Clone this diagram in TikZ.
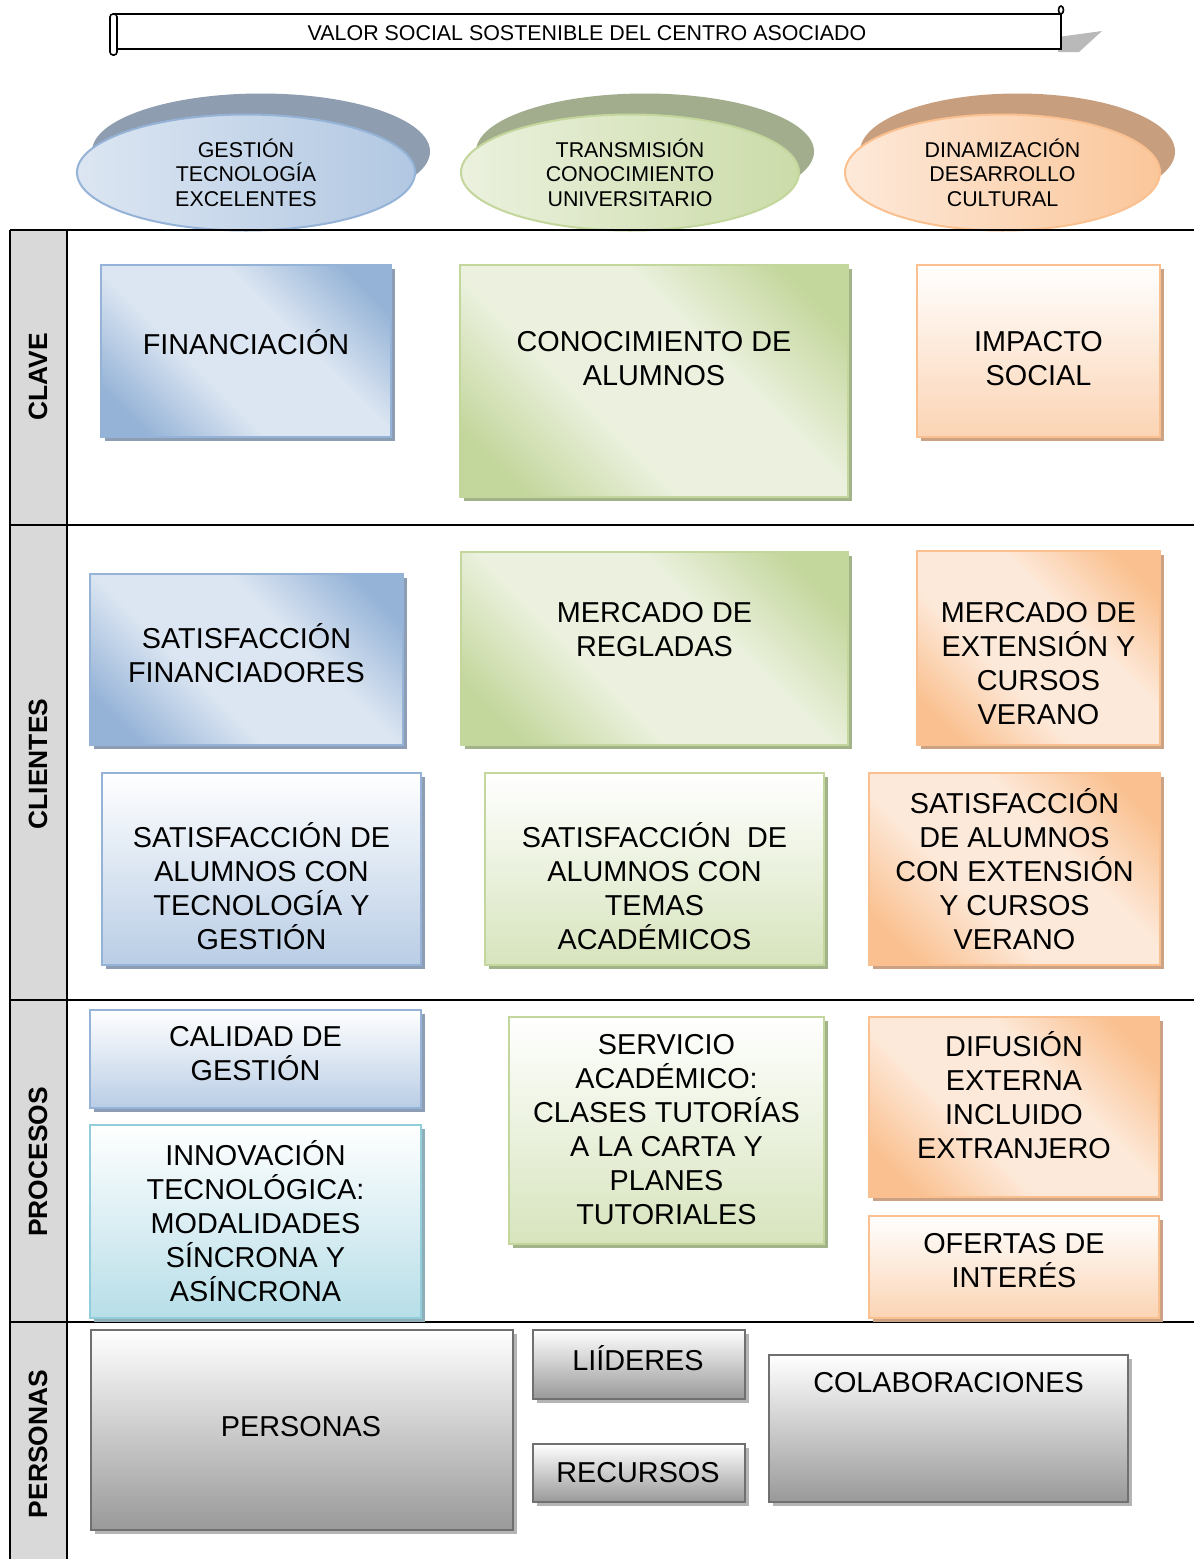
\documentclass[tikz,border=0pt]{standalone}
\usepackage{fontspec}
\setmainfont{Liberation Sans}
\usetikzlibrary{shadows,shapes.geometric}
\definecolor{blL}{HTML}{DCE6F2}
\definecolor{blD}{HTML}{95B3D7}
\definecolor{blV}{HTML}{B9CDE5}
\definecolor{blS}{HTML}{8C9DB4}
\definecolor{blE}{HTML}{8E9DB0}
\definecolor{grL}{HTML}{EBF1DE}
\definecolor{grD}{HTML}{C3D69B}
\definecolor{grV}{HTML}{D7E4BD}
\definecolor{grS}{HTML}{A3B389}
\definecolor{grE}{HTML}{A2AD8E}
\definecolor{orL}{HTML}{FDE9D9}
\definecolor{orD}{HTML}{FAC08F}
\definecolor{orV}{HTML}{FBD4B4}
\definecolor{orS}{HTML}{CBA283}
\definecolor{orE}{HTML}{C79E7E}
\definecolor{cyD}{HTML}{92CDDC}
\definecolor{cyV}{HTML}{B7DEE8}
\definecolor{cyS}{HTML}{8FAFB8}
\definecolor{gyD}{HTML}{707070}
\definecolor{gyV}{HTML}{999999}
\definecolor{gyS}{HTML}{B4B4B4}
\definecolor{sideG}{HTML}{D9D9D9}
\pgfdeclareverticalshading{bdsh}{100bp}{color(0bp)=(blD); color(22bp)=(blD); color(40bp)=(blL); color(60bp)=(blL); color(78bp)=(blD); color(100bp)=(blD)}
\pgfdeclareverticalshading{gdsh}{100bp}{color(0bp)=(grD); color(22bp)=(grD); color(40bp)=(grL); color(60bp)=(grL); color(78bp)=(grD); color(100bp)=(grD)}
\pgfdeclareverticalshading{odsh}{100bp}{color(0bp)=(orD); color(22bp)=(orD); color(40bp)=(orL); color(60bp)=(orL); color(78bp)=(orD); color(100bp)=(orD)}
\begin{document}
\begin{tikzpicture}[x=0.5pt,y=-0.5pt,
  wh/.style 2 args={minimum width=#1*0.5pt, minimum height=#2*0.5pt},
  box/.style={rectangle, line width=1pt, inner sep=0pt, outer sep=0pt},
  txt/.style={align=center, inner sep=0pt, font=\fontsize{14.4}{17}\selectfont},
  etxt/.style={align=center, inner sep=0pt, font=\fontsize{10.7}{12.3}\selectfont},
  side/.style={rotate=90, inner sep=0pt, font=\bfseries\fontsize{13.2}{15}\selectfont},
  bshadow/.style={general shadow={fill=#1, shadow xshift=2pt, shadow yshift=-2pt}},
  eshadow/.style={general shadow={fill=#1, shadow xshift=7.5pt, shadow yshift=10.5pt}},
  bdiag/.style={box, draw=blD, shading=bdsh, shading angle=-45, bshadow=blS},
  gdiag/.style={box, draw=grD, shading=gdsh, shading angle=-45, bshadow=grS},
  odiag/.style={box, draw=orD, shading=odsh, shading angle=-45, bshadow=orS},
  bvert/.style={box, draw=blD, top color=white, bottom color=blV, bshadow=blS},
  gvert/.style={box, draw=grD, top color=white, bottom color=grV, bshadow=grS},
  overt/.style={box, draw=orD, top color=white, bottom color=orV, bshadow=orS},
  cvert/.style={box, draw=cyD, top color=white, bottom color=cyV, bshadow=cyS},
  gyvert/.style={box, draw=gyD, line width=1.2pt, top color=white, bottom color=gyV, bshadow=gyS},
  ell/.style={ellipse, line width=1pt, inner sep=0pt, etxt},
  tline/.style={line width=1pt}
]
\useasboundingbox (0,0) rectangle (1194,1559);
\fill[white] (0,0) rectangle (1194,1559);

% banner
\fill[gray!55] (1058,37) -- (1102,31) -- (1079,52) -- (1058,52) -- cycle;
\draw[line width=0.8pt, fill=white] (114,14) rectangle (1061,49);
\draw[line width=0.8pt, fill=white] (1061,10) ellipse [x radius=2.5, y radius=4];
\draw[line width=0.8pt, fill=white, rounded corners=1.5pt] (110,14) rectangle (117,55);
\node[inner sep=0pt, font=\fontsize{10.7}{12}\selectfont] (title) at (587,33) {VALOR SOCIAL SOSTENIBLE DEL CENTRO ASOCIADO};

% side column
\fill[sideG] (10,230) rectangle (67,1559);

% ellipses
\node[ell, wh={338}{116}, draw=blD, left color=blL, right color=blD!60!blL, eshadow=blE] (e1) at (246,172.5) {GESTIÓN\\TECNOLOGÍA\\EXCELENTES};
\node[ell, wh={338}{116}, draw=grD, left color=grL, right color=grD!80!grL, eshadow=grE] (e2) at (630,172.5) {TRANSMISIÓN\\CONOCIMIENTO\\UNIVERSITARIO};
\node[ell, wh={315}{116}, draw=orD, left color=orL, right color=orD!85!orL, eshadow=orE] (e3) at (1002.5,172.5) {DINAMIZACIÓN\\DESARROLLO\\CULTURAL};

% table lines
\draw[tline] (10,230) -- (1194,230);
\draw[tline] (10,525) -- (1194,525);
\draw[tline] (10,1000) -- (1194,1000);
\draw[tline] (10,1322) -- (1194,1322);
\draw[tline] (10,230) -- (10,1559);
\draw[tline] (67,230) -- (67,1559);

\node[side] (sClave) at (38,377) {CLAVE};
\node[side] (sClientes) at (38,764) {CLIENTES};
\node[side] (sProcesos) at (38,1162) {PROCESOS};
\node[side] (sPersonas) at (38,1444) {PERSONAS};

% CLAVE row
\node[bdiag, wh={290}{172}] (fin) at (246,351) {};
\node[txt] (finT) at (246,342) {FINANCIACIÓN};
\node[gdiag, wh={388}{232}] (con) at (654,381) {};
\node[txt] (conT) at (654,359) {CONOCIMIENTO DE\\ALUMNOS};
\node[overt, wh={243}{172}] (imp) at (1038.5,351) {};
\node[txt] (impT) at (1038.5,359) {IMPACTO\\SOCIAL};

% CLIENTES row
\node[bdiag, wh={313}{171}] (satfin) at (246.5,659.5) {};
\node[txt] (satfinT) at (246.5,653) {SATISFACCIÓN\\FINANCIADORES};
\node[gdiag, wh={387}{193}] (merreg) at (654.5,648.5) {};
\node[txt] (merregT) at (654.5,630) {MERCADO DE\\REGLADAS};
\node[odiag, wh={243}{194}] (merext) at (1038.5,648) {};
\node[txt] (merextT) at (1038.5,663.5) {MERCADO DE\\EXTENSIÓN Y\\CURSOS\\VERANO};
\node[bvert, wh={319}{192}] (satalt) at (261.5,869) {};
\node[txt] (sataltT) at (261.5,886) {SATISFACCIÓN DE\\ALUMNOS CON\\TECNOLOGÍA Y\\GESTIÓN};
\node[gvert, wh={339}{192}] (satacad) at (654.5,869) {};
\node[txt] (satacadT) at (654.5,886) {SATISFACCIÓN~~DE\\ALUMNOS CON\\TEMAS\\ACADÉMICOS};
\node[odiag, wh={291}{192}] (satext) at (1014.5,869) {};
\node[txt] (satextT) at (1014.5,869.5) {SATISFACCIÓN\\DE ALUMNOS\\CON EXTENSIÓN\\Y CURSOS\\VERANO};

% PROCESOS row
\node[bvert, wh={331}{98}] (cal) at (255.5,1059) {};
\node[txt] (calT) at (255.5,1054) {CALIDAD DE\\GESTIÓN};
\node[cvert, wh={331}{193}] (inno) at (255.5,1221.5) {};
\node[txt] (innoT) at (255.5,1221.5) {INNOVACIÓN\\TECNOLÓGICA:\\MODALIDADES\\SÍNCRONA Y\\ASÍNCRONA};
\node[gvert, wh={315}{227}] (serv) at (666.5,1130.5) {};
\node[txt] (servT) at (666.5,1129.5) {SERVICIO\\ACADÉMICO:\\CLASES TUTORÍAS\\A LA CARTA Y\\PLANES\\TUTORIALES};
\node[odiag, wh={290}{180}] (dif) at (1014,1107) {};
\node[txt] (difT) at (1014,1095.5) {DIFUSIÓN\\EXTERNA\\INCLUIDO\\EXTRANJERO};
\node[overt, wh={290}{102}] (ofer) at (1014,1267) {};
\node[txt] (oferT) at (1014,1260.5) {OFERTAS DE\\INTERÉS};

% PERSONAS row
\node[gyvert, wh={422}{200}] (pers) at (302,1430) {};
\node[txt] (persT) at (301,1427) {PERSONAS};
\node[gyvert, wh={212}{69}] (lid) at (639,1364.5) {};
\node[txt] (lidT) at (638,1358) {LIÍDERES};
\node[gyvert, wh={212}{58}] (rec) at (639,1473) {};
\node[txt] (recT) at (638,1473) {RECURSOS};
\node[gyvert, wh={359}{147}] (colab) at (948.5,1428.5) {};
\node[txt] (colabT) at (948.5,1383) {COLABORACIONES};
\end{tikzpicture}
\end{document}
